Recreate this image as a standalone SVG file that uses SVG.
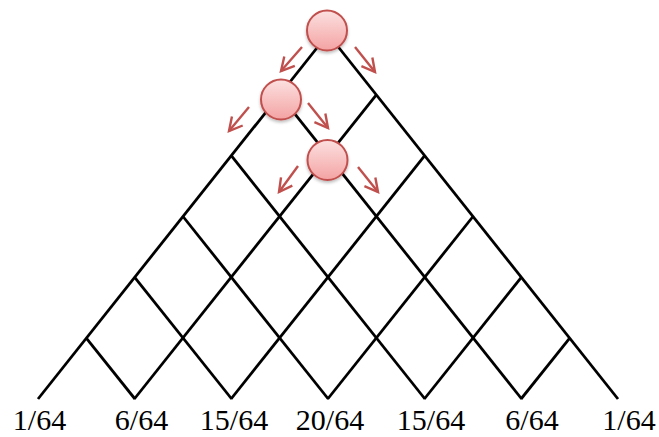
<svg xmlns="http://www.w3.org/2000/svg" width="659" height="437" viewBox="0 0 659 437">
<style>
.lat{stroke:#000;stroke-width:2.8;fill:none;stroke-linecap:butt}
.arr{stroke:#c0504d;stroke-width:2.4;fill:none;marker-end:url(#ah)}
.ball{fill:url(#bg);stroke:#c0504d;stroke-width:2;filter:url(#sh)}
.lbl{font-family:"Liberation Serif","Times New Roman",serif;font-size:30px;fill:#000;text-anchor:middle}
</style>
<defs>
<linearGradient id="bg" x1="0" y1="0" x2="0" y2="1">
<stop offset="0" stop-color="#fce0e0"/>
<stop offset="1" stop-color="#f4a3a3"/>
</linearGradient>
<marker id="ah" markerUnits="userSpaceOnUse" viewBox="-16 -10 20 20" refX="0" refY="0" markerWidth="20" markerHeight="20" orient="auto">
<path d="M-13,-7 L0,0 L-13,7" fill="none" stroke="#c0504d" stroke-width="2.4"/>
</marker>
<filter id="sh" x="-30%" y="-30%" width="160%" height="160%">
<feDropShadow dx="0" dy="2" stdDeviation="1.5" flood-color="#000" flood-opacity="0.25"/>
</filter>
</defs>
<g id="lattice" class="lat">
<path d="M328,34 L38,399"/>
<path d="M328,34 L618,399"/>
<path d="M279.7,94.8 L521.7,399"/>
<path d="M231.3,155.7 L425,399"/>
<path d="M183,216.5 L328.3,399"/>
<path d="M134.7,277.3 L231.7,399"/>
<path d="M86.3,338.2 L135,399"/>
<path d="M376.3,94.8 L134.3,399"/>
<path d="M424.7,155.7 L231,399"/>
<path d="M473,216.5 L327.7,399"/>
<path d="M521.3,277.3 L424.3,399"/>
<path d="M569.7,338.2 L521,399"/>
</g>
<g id="connectors">
<path class="arr" d="M302,47 L281,71"/>
<path class="arr" d="M355,47 L375,72"/>
<path class="arr" d="M249,107 L229,131"/>
<path class="arr" d="M308,103 L328,128"/>
<path class="arr" d="M298,166 L279,192"/>
<path class="arr" d="M358,167 L378,192"/>
</g>
<g id="ball1"><circle class="ball" cx="327" cy="30.5" r="20"/></g>
<g id="ball2"><circle class="ball" cx="281" cy="99.5" r="20"/></g>
<g id="ball3"><circle class="ball" cx="327.5" cy="160" r="20"/></g>
<g id="labels">
<text class="lbl" x="39.5" y="430">1/64</text>
<text class="lbl" x="141.5" y="430">6/64</text>
<text class="lbl" x="234" y="430">15/64</text>
<text class="lbl" x="330" y="430">20/64</text>
<text class="lbl" x="431" y="430">15/64</text>
<text class="lbl" x="532" y="430">6/64</text>
<text class="lbl" x="629" y="430">1/64</text>
</g>
</svg>
